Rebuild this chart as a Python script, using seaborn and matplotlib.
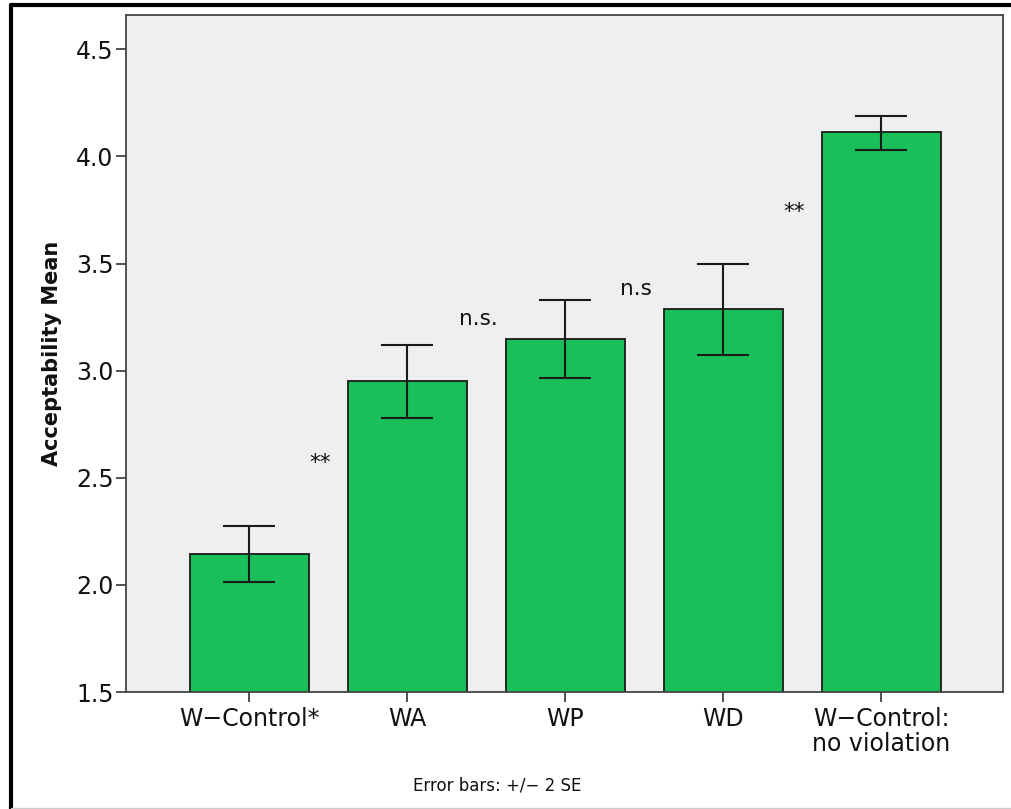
import matplotlib
matplotlib.use("Agg")
import matplotlib.pyplot as plt
import seaborn as sns
import numpy as np
import pandas as pd
from matplotlib.lines import Line2D

categories = ["W\u2212Control*", "WA", "WP", "WD", "W\u2212Control:\nno violation"]
means = [2.145, 2.953, 3.15, 3.29, 4.112]
err_low = [2.014, 2.78, 2.967, 3.075, 4.03]
err_high = [2.276, 3.12, 3.33, 3.50, 4.19]
annot_labels = ["**", "n.s.", "n.s", "**"]
annot_x = [0.45, 1.45, 2.45, 3.45]
annot_y = [2.57, 3.24, 3.38, 3.74]
yticks = [1.5, 2.0, 2.5, 3.0, 3.5, 4.0, 4.5]

sns.set_theme(style="white")
plt.rcParams['font.family'] = ['DejaVu Sans']

fig = plt.figure(figsize=(10.11, 8.09), dpi=100)
W, H = 1011, 809
ax = fig.add_axes([126 / W, 1 - 692 / H, (1003 - 126) / W, (692 - 15) / H])
ax.set_facecolor("#EFEFEF")

df = pd.DataFrame({"cat": categories, "mean": means})
sns.barplot(data=df, x="cat", y="mean", color="#19C05A", saturation=1,
            edgecolor="#1a1a1a", linewidth=1.3, width=0.753, ax=ax)

x = np.arange(len(categories))
m = np.array(means)
yerr = np.vstack([m - np.array(err_low), np.array(err_high) - m])
ax.errorbar(x, m, yerr=yerr, fmt="none", ecolor="#1a1a1a", elinewidth=1.5,
            capsize=19, capthick=1.5)

for lab, xx, yy in zip(annot_labels, annot_x, annot_y):
    ax.text(xx, yy, lab, ha="center", va="center", fontsize=15.5, color="#111111")

ax.set_xlim(-0.78, 4.77)
ax.set_ylim(1.5, 4.66)
ax.set_yticks(yticks)
ax.set_yticklabels([f"{v:.1f}" for v in yticks])
ax.tick_params(axis="both", which="both", direction="out", length=7, width=1.2,
               color="#333333", labelsize=17, labelcolor="#111111",
               left=True, bottom=True)
ax.tick_params(axis="y", pad=2)
ax.tick_params(axis="x", pad=4)
for lbl in ax.get_xticklabels():
    lbl.set_linespacing(1.05)
ax.set_xlabel("")
ax.set_ylabel("Acceptability Mean", fontsize=15, fontweight="bold", color="#111111", labelpad=10)
for s in ax.spines.values():
    s.set_color("#444444")
    s.set_linewidth(1.3)

fig.text(497 / W, 1 - 785 / H, "Error bars: +/\u2212 2 SE", ha="center", va="center",
         fontsize=12, color="#111111")

# outer frame lines
fig.add_artist(Line2D([10.5 / W, 1.0], [1 - 5 / H, 1 - 5 / H], transform=fig.transFigure,
                      color="black", linewidth=3))
fig.add_artist(Line2D([11 / W, 11 / W], [0.0, 1 - 5 / H], transform=fig.transFigure,
                      color="black", linewidth=3))
fig.add_artist(Line2D([11 / W, 1.0], [1 - 807.5 / H, 1 - 807.5 / H], transform=fig.transFigure,
                      color="#cccccc", linewidth=1))

fig.savefig("out.png", dpi=100)
